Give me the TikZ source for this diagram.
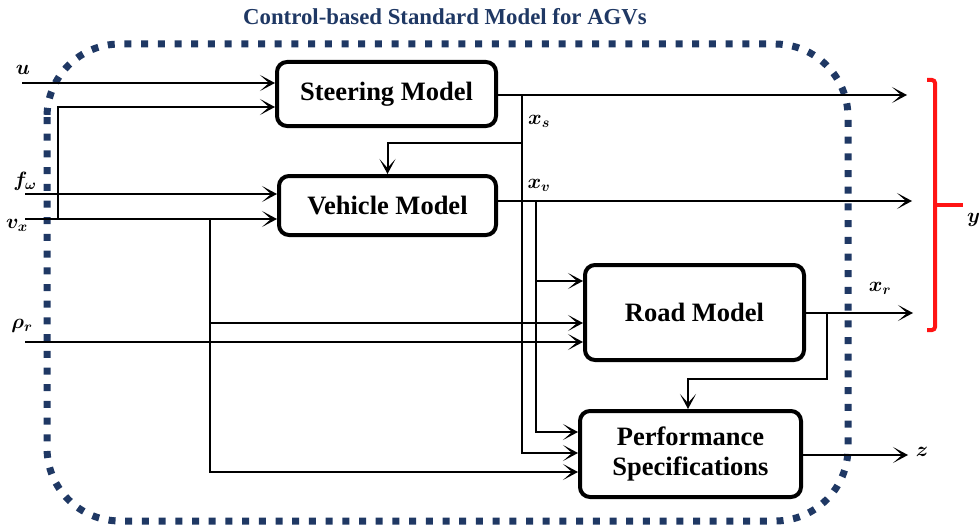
\documentclass[tikz,border=0pt]{standalone}
\usepackage{fontspec}
\setmainfont{Liberation Serif}
\usetikzlibrary{arrows.meta,calc}
\definecolor{navy}{RGB}{31,56,100}
\definecolor{brred}{RGB}{255,20,20}
\begin{document}
\begin{tikzpicture}[x=1pt,y=-1pt,
  blk/.style={draw=black,line width=4pt,rounded corners=10pt,inner sep=0pt,align=center,
    font=\bfseries\fontsize{26.5}{30}\selectfont},
  conn/.style={line width=2pt},
  arr/.style={line width=2pt,-{Stealth[length=15pt,width=16pt,inset=9pt]}},
  lbl/.style={inner sep=0pt,font=\fontsize{21}{24}\selectfont\boldmath}]
\useasboundingbox (0,0) rectangle (980,527);
% title and frame
\node[inner sep=0pt,text=navy,font=\bfseries\fontsize{22.8}{26}\selectfont] (title) at (445,17) {Control-based Standard Model for AGVs};
\draw[navy,line width=7pt,dash pattern=on 7pt off 9.7pt,rounded corners=73pt] (47,44) rectangle (848,521);
% blocks
\node[blk,minimum width=219pt,minimum height=64pt] (steer) at (386.5,94) {Steering Model};
\node[blk,minimum width=217pt,minimum height=59pt] (veh) at (387.5,205.5) {Vehicle Model};
\node[blk,minimum width=219pt,minimum height=95pt] (road) at (694.5,312.5) {Road Model};
\node[blk,minimum width=221pt,minimum height=86pt] (perf) at (690.5,454) {Performance\\Specifications};
% inputs
\coordinate (uin) at (22,83);
\coordinate (fin) at (25,194);
\coordinate (vin) at (25,219);
\coordinate (rin) at (25,342);
\node[lbl] (ul) at (23,70) {$u$};
\node[lbl] (fl) at (25,181) {$f_{\omega}$};
\node[lbl] (vl) at (17,225) {$v_{x}$};
\node[lbl] (rl) at (22,326) {$\rho_{r}$};
\draw[arr] (uin) -- (steer.west |- uin);
\draw[arr] (fin) -- (veh.west |- fin);
\draw[arr] (vin) -- (veh.west |- vin);
\draw[arr] (rin) -- (road.west |- rin);
\coordinate (vb1) at (58,219);
\coordinate (vb1t) at (58,107);
\draw[arr] (vb1) -- (vb1t) -- (steer.west |- vb1t);
\coordinate (vb2) at (210,219);
\coordinate (vb2m) at (210,323);
\coordinate (vb2b) at (210,472);
\draw[arr] (vb2) -- (vb2b) -- (perf.west |- vb2b);
\draw[arr] (vb2m) -- (road.west |- vb2m);
% steering output
\coordinate (sout) at (498,95);
\coordinate (send) at (907,95);
\coordinate (xsb) at (522,95);
\coordinate (xsm) at (522,143);
\coordinate (xsb2) at (522,453);
\draw[arr] (sout) -- (send);
\draw[arr] (xsb) -- (xsb2) -- (perf.west |- xsb2);
\draw[arr] (xsm) -| (veh.north);
\node[lbl] (xsl) at (539,121) {$x_{s}$};
% vehicle output
\coordinate (vout) at (498,201);
\coordinate (vend) at (912,201);
\coordinate (xvb) at (536,201);
\coordinate (xvm) at (536,281);
\coordinate (xvb2) at (536,432);
\draw[arr] (vout) -- (vend);
\draw[arr] (xvb) -- (xvb2) -- (perf.west |- xvb2);
\draw[arr] (xvm) -- (road.west |- xvm);
\node[lbl] (xvl) at (539,185) {$x_{v}$};
% road output
\coordinate (rout) at (806,313);
\coordinate (rend) at (913,313);
\coordinate (rb) at (827,313);
\coordinate (rbm) at (827,379);
\coordinate (rbl) at (688,379);
\draw[arr] (rout) -- (rend);
\draw[arr] (rb) -- (rbm) -- (rbl) -- (rbl |- perf.north);
\node[lbl] (xrl) at (880,288) {$x_{r}$};
% performance output
\coordinate (pout) at (803,455);
\coordinate (pend) at (908,455);
\draw[arr] (pout) -- (pend);
\node[lbl] (zl) at (922,452) {$z$};
% bracket
\draw[brred,line width=4pt,rounded corners=3pt] (927,80) -- (935,80) -- (935,330) -- (927,330);
\coordinate (bm) at (935,205);
\coordinate (bt) at (963,205);
\draw[brred,line width=4pt] (bm) -- (bt);
\node[lbl,anchor=west] (yl) at (967,220) {$y$};
\end{tikzpicture}
\end{document}
